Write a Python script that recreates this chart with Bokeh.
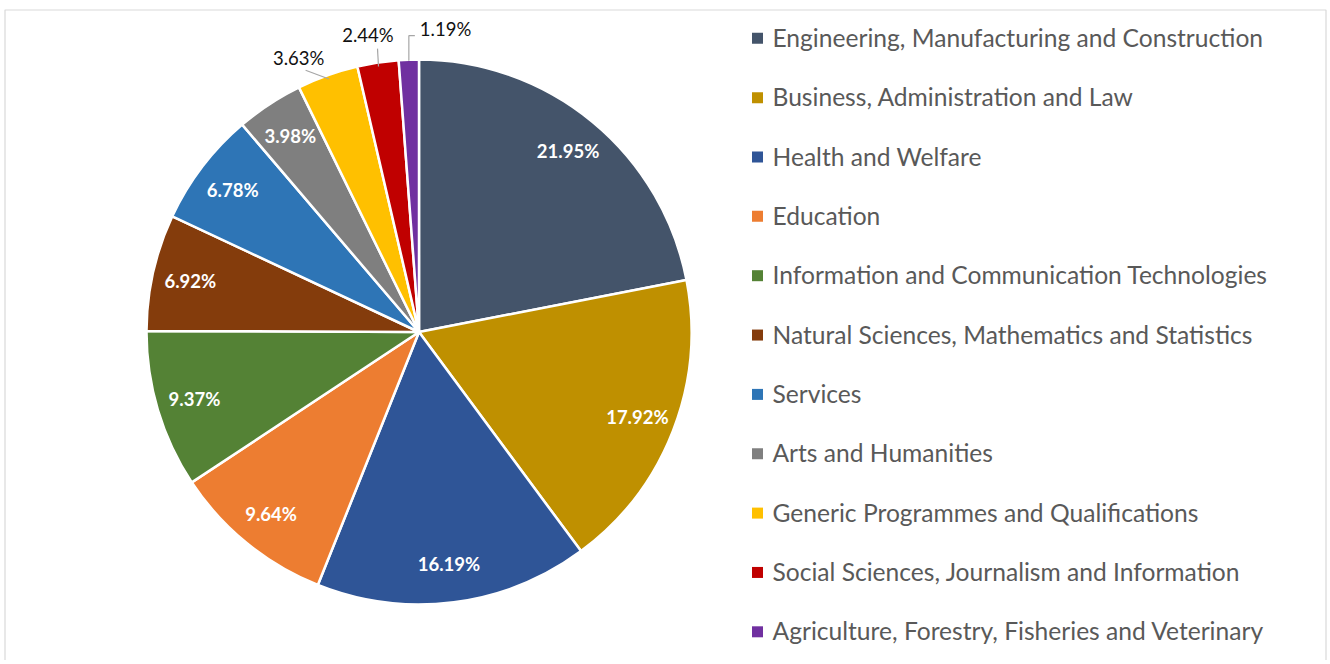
import math
from bokeh.plotting import figure
from bokeh.models import Range1d, ColumnDataSource
from bokeh.embed import file_html
from bokeh.resources import INLINE
from bokeh.core.properties import value

categories = [
    "Engineering, Manufacturing and Construction",
    "Business, Administration and Law",
    "Health and Welfare",
    "Education",
    "Information and Communication Technologies",
    "Natural Sciences, Mathematics and Statistics",
    "Services",
    "Arts and Humanities",
    "Generic Programmes and Qualifications",
    "Social Sciences, Journalism and Information",
    "Agriculture, Forestry, Fisheries and Veterinary",
]
shares = [21.95, 17.92, 16.19, 9.64, 9.37, 6.92, 6.78, 3.98, 3.63, 2.44, 1.19]
colors = ["#44546A", "#BF9000", "#2F5597", "#ED7D31", "#548235", "#843C0C",
          "#2E75B6", "#7F7F7F", "#FFC000", "#C00000", "#7030A0"]
labels = [f"{v:.2f}%" for v in shares]

# ---- layout (screenshot pixel coordinates, y measured downward) ----
W, H = 1328, 660


def py(y_page):
    return H - y_page


CX, CY_PAGE, R = 418.5, 331.5, 272.5
CY = py(CY_PAGE)
FONT = "Lato"
# outside-label placement (text centre offset from slice edge, leader end offset from text centre)
OUTSIDE_LAYOUT = {
    "3.63%": ((-29, -15), (7, 10)),
    "2.44%": ((-10, -25), (9.6, 11)),
}

p = figure(width=W, height=H, x_range=Range1d(0, W), y_range=Range1d(0, H),
           output_backend="svg", toolbar_location=None, min_border=0)
p.axis.visible = False
p.grid.visible = False
p.outline_line_color = None
p.background_fill_color = "white"
p.border_fill_color = "white"

# chart border
p.quad(left=[4.5], right=[1325.5], top=[py(9.5)], bottom=[-40],
       fill_color=None, line_color="#D9D9D9", line_width=1.2)

# pie
total = sum(shares)
starts, ends, mids = [], [], []
c = 0.0
for v in shares:
    c0 = c / total
    c += v
    c1 = c / total
    starts.append(math.pi / 2 - 2 * math.pi * c0)
    ends.append(math.pi / 2 - 2 * math.pi * c1)
    mids.append(2 * math.pi * (c0 + c1) / 2)  # clockwise from top

src = ColumnDataSource(dict(start=starts, end=ends, color=colors))
p.wedge(x=CX, y=CY, radius=R, start_angle="start", end_angle="end",
        direction="clock", fill_color="color", line_color="white",
        line_width=2.5, source=src)

LEADER = "#A6A6A6"
# labels
in_x, in_y, in_t = [], [], []
for v, t, th in zip(shares, labels, mids):
    s, co = math.sin(th), math.cos(th)
    if v >= 3.9:
        r = 0.86 * R
        in_x.append(CX + r * s)
        in_y.append(CY + r * co)
        in_t.append(t)
    elif t in OUTSIDE_LAYOUT:
        (tdx, tdy), (ldx, ldy) = OUTSIDE_LAYOUT[t]
        ex, ey = CX + R * s, CY + R * co
        tx, ty = ex + tdx, ey - tdy
        x0, y0 = CX + (R - 4) * s, CY + (R - 4) * co
        p.line(x=[x0, tx + ldx], y=[y0, ty - ldy], line_color=LEADER, line_width=1.2)
        p.text(x=[tx], y=[ty + 2.5], text=[t], text_font=value(FONT),
               text_font_size="18.5px", text_color="#111111",
               text_align="center", text_baseline="middle")
    else:
        x0 = CX + (R - 1) * s
        y0 = CY + (R - 1) * co
        ytop = y0 + 25
        p.line(x=[x0, x0, x0 + 6], y=[y0, ytop, ytop], line_color=LEADER, line_width=1.2)
        p.text(x=[x0 + 11], y=[ytop + 6.5], text=[t], text_font=value(FONT),
               text_font_size="18.5px", text_color="#111111",
               text_align="left", text_baseline="middle")

p.text(x=in_x, y=in_y, text=in_t, text_font=value(FONT), text_font_size="18.5px",
       text_font_style="bold", text_color="white", text_align="center",
       text_baseline="middle")

# legend
ROW0, ROW_STEP = 37.8, 59.35
ly = [py(ROW0 + i * ROW_STEP) for i in range(len(categories))]
p.rect(x=[757] * len(categories), y=ly, width=11, height=11, fill_color=colors,
       line_color=None)
p.text(x=[772] * len(categories), y=[v + 1 for v in ly], text=categories,
       text_font=value(FONT), text_font_size="24.6px", text_color="#595959",
       text_align="left", text_baseline="middle")

open("out.html", "w").write(file_html(p, INLINE))
